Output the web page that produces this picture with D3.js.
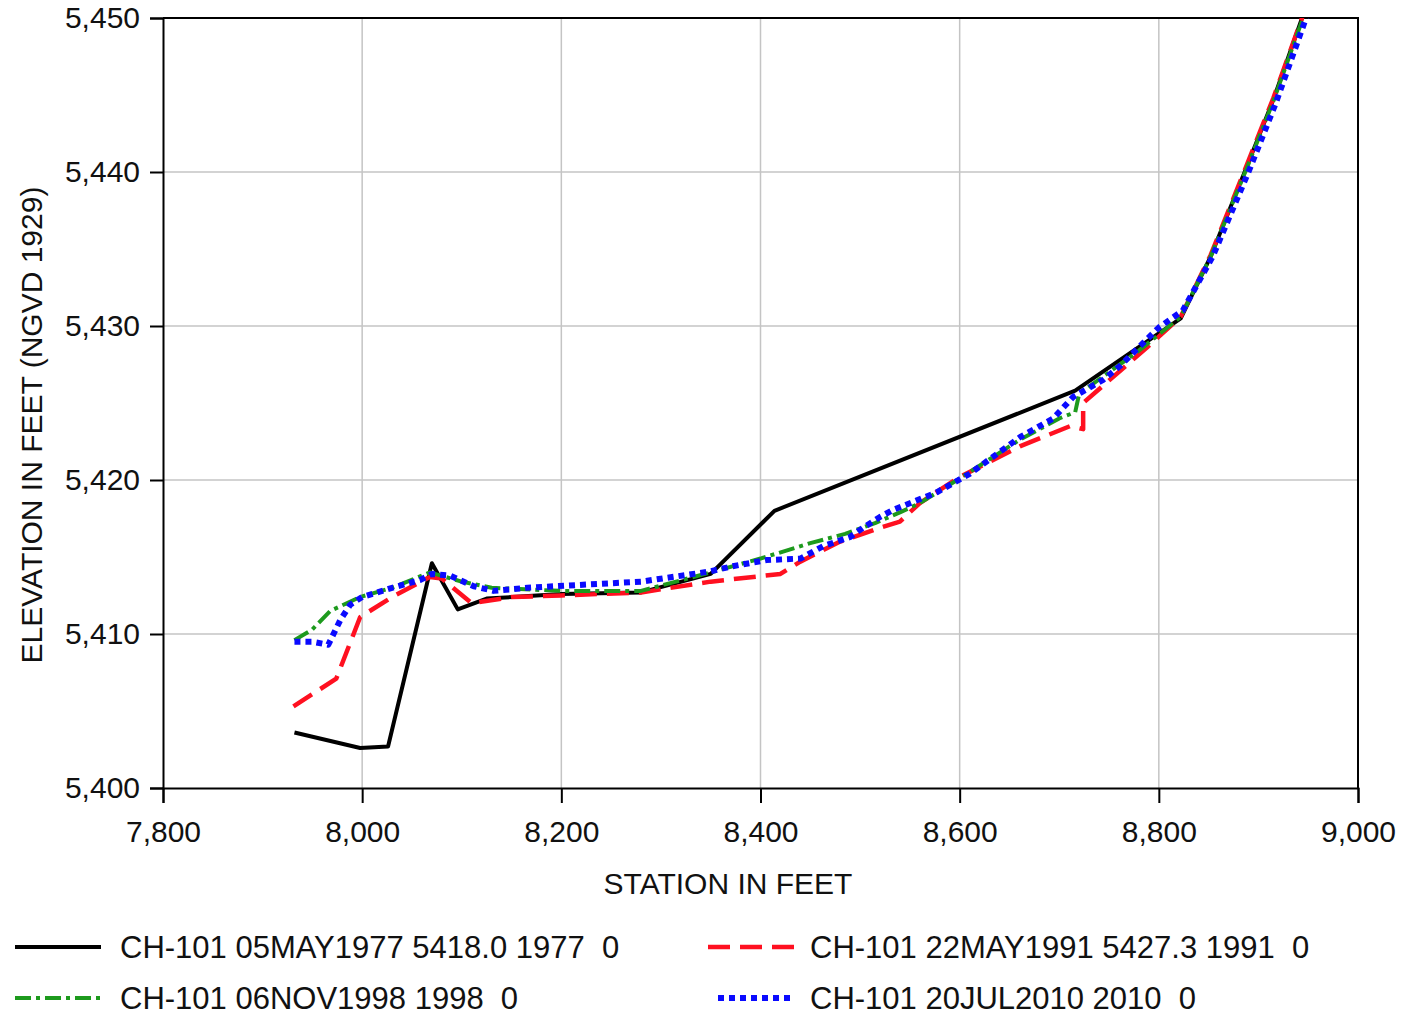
<!DOCTYPE html>
<html>
<head>
<meta charset="utf-8">
<script src="https://cdn.jsdelivr.net/npm/d3@7"></script>
<style>
  html, body { margin: 0; padding: 0; background: #fff; }
  svg { display: block; font-family: "Liberation Sans", Arial, sans-serif; }
</style>
</head>
<body>
<svg id="chart" width="1410" height="1018"></svg>
<script>
// Cross-section survey profiles, station (ft) vs elevation (ft, NGVD 1929)
const xTicks = [7800, 8000, 8200, 8400, 8600, 8800, 9000];
const yTicks = [5400, 5410, 5420, 5430, 5440, 5450];

const seriesNames = [
  "CH-101 05MAY1977 5418.0 1977  0",
  "CH-101 22MAY1991 5427.3 1991  0",
  "CH-101 06NOV1998 1998  0",
  "CH-101 20JUL2010 2010  0"
];

const sta1977 = [7932, 7998, 8026, 8070, 8096, 8125, 8200, 8280, 8350, 8414, 8716, 8822, 8852, 8888, 8915, 8946];
const elev1977 = [5403.6, 5402.6, 5402.7, 5414.6, 5411.6, 5412.3, 5412.6, 5412.7, 5413.9, 5418.0, 5425.8, 5430.5, 5434.5, 5440.3, 5444.7, 5450.4];

const sta1991 = [7931, 7974, 7998, 8030, 8068, 8080, 8110, 8150, 8200, 8280, 8350, 8420, 8440, 8480, 8520, 8540, 8560, 8600, 8661, 8711, 8724, 8724, 8788, 8822, 8852, 8888, 8915, 8946];
const elev1991 = [5405.3, 5407.1, 5411.1, 5412.4, 5413.7, 5413.6, 5412.0, 5412.4, 5412.5, 5412.7, 5413.4, 5413.9, 5414.7, 5416.0, 5416.9, 5417.3, 5418.5, 5420.2, 5422.2, 5423.5, 5423.3, 5425.0, 5428.6, 5430.6, 5434.6, 5440.4, 5444.8, 5450.4];

const sta1998 = [7932, 7950, 7968, 7998, 8030, 8068, 8100, 8130, 8200, 8280, 8350, 8400, 8450, 8485, 8515, 8540, 8560, 8600, 8660, 8700, 8716, 8720, 8780, 8822, 8852, 8888, 8915, 8947];
const elev1998 = [5409.6, 5410.3, 5411.5, 5412.4, 5413.0, 5414.0, 5413.4, 5413.0, 5412.8, 5412.8, 5414.0, 5414.9, 5415.9, 5416.5, 5417.2, 5417.9, 5418.5, 5420.1, 5422.6, 5424.0, 5424.4, 5425.6, 5428.4, 5430.6, 5434.5, 5440.2, 5444.6, 5450.4];

const sta2010 = [7932, 7950, 7966, 7978, 7988, 8000, 8030, 8058, 8070, 8088, 8112, 8132, 8166, 8193, 8280, 8348, 8372, 8406, 8440, 8463, 8490, 8503, 8520, 8533, 8577, 8610, 8661, 8694, 8714, 8744, 8761, 8800, 8824, 8854, 8890, 8917, 8950];
const elev2010 = [5409.5, 5409.5, 5409.3, 5410.9, 5411.9, 5412.4, 5413.0, 5413.5, 5413.9, 5413.8, 5413.1, 5412.8, 5413.0, 5413.1, 5413.4, 5414.05, 5414.4, 5414.8, 5414.9, 5415.7, 5416.3, 5416.9, 5417.6, 5418.05, 5419.2, 5420.4, 5422.8, 5424.0, 5425.4, 5426.5, 5427.4, 5429.9, 5431.0, 5434.5, 5440.0, 5444.4, 5450.4];

const svg = d3.select("#chart");
const margin = { left: 163, top: 18, right: 52, bottom: 230 };
const W = 1410, H = 1018;
const pw = W - margin.left - margin.right;   // 1195
const ph = H - margin.top - margin.bottom;   // 770

const x = d3.scaleLinear().domain([7800, 9000]).range([0, pw]);
const y = d3.scaleLinear().domain([5400, 5450]).range([ph, 0]);

const g = svg.append("g").attr("transform", `translate(${margin.left},${margin.top})`);

// grid
g.append("g").selectAll("line").data(xTicks.slice(1, -1)).join("line")
  .attr("x1", d => x(d)).attr("x2", d => x(d)).attr("y1", 0).attr("y2", ph)
  .attr("stroke", "#c4c4c4").attr("stroke-width", 1.5);
g.append("g").selectAll("line").data(yTicks.slice(1, -1)).join("line")
  .attr("x1", 0).attr("x2", pw).attr("y1", d => y(d)).attr("y2", d => y(d))
  .attr("stroke", "#c4c4c4").attr("stroke-width", 1.5);

// frame (top/right)
g.append("path").attr("d", `M0,0H${pw}V${ph}`).attr("fill", "none")
  .attr("stroke", "#000").attr("stroke-width", 2);

// axes
const fmt = d3.format(",");
const xAxis = g.append("g").attr("transform", `translate(0,${ph})`)
  .call(d3.axisBottom(x).tickValues(xTicks).tickFormat(fmt).tickSize(15).tickPadding(18));
const yAxis = g.append("g")
  .call(d3.axisLeft(y).tickValues(yTicks).tickFormat(fmt).tickSize(13).tickPadding(10));
[xAxis, yAxis].forEach(a => {
  a.select(".domain").attr("stroke", "#000").attr("stroke-width", 2);
  a.selectAll(".tick line").attr("stroke", "#000").attr("stroke-width", 2);
  a.selectAll(".tick text").attr("fill", "#111").attr("font-size", 30)
    .attr("font-family", "'Liberation Sans', Arial, sans-serif");
});

// axis titles
svg.append("text").attr("x", 728).attr("y", 894).attr("text-anchor", "middle")
  .attr("font-size", 30).attr("fill", "#111").text("STATION IN FEET");
svg.append("text").attr("transform", "translate(42,425) rotate(-90)")
  .attr("text-anchor", "middle").attr("font-size", 30).attr("fill", "#111")
  .text("ELEVATION IN FEET (NGVD 1929)");

// profiles
const styles = [
  { color: "#000000", width: 4, dash: null },
  { color: "#ff1020", width: 4.5, dash: "22,10" },
  { color: "#1d9a1d", width: 4, dash: "16,5,4,5" },
  { color: "#0a0aff", width: 6, dash: "6,5" }
];
const stations = [sta1977, sta1991, sta1998, sta2010];
const elevations = [elev1977, elev1991, elev1998, elev2010];

svg.append("defs").append("clipPath").attr("id", "plotclip")
  .append("rect").attr("x", 0).attr("y", 0).attr("width", pw).attr("height", ph);

const line = d3.line().x(d => x(d[0])).y(d => y(d[1]));
const lines = g.append("g").attr("clip-path", "url(#plotclip)");
stations.forEach((s, i) => {
  const pts = s.map((v, j) => [v, elevations[i][j]]);
  lines.append("path").datum(pts).attr("d", line)
    .attr("fill", "none").attr("stroke", styles[i].color)
    .attr("stroke-width", styles[i].width)
    .attr("stroke-linejoin", "round")
    .attr("stroke-dasharray", styles[i].dash);
});

// legend
const legendPos = [
  { lx: 15, tx: 120, y: 947 },
  { lx: 708, tx: 810, y: 947 },
  { lx: 15, tx: 120, y: 998 },
  { lx: 718, tx: 810, y: 998 }
];
legendPos.forEach((p, i) => {
  const len = i === 3 ? 76 : 86;
  svg.append("line").attr("x1", p.lx).attr("x2", p.lx + len).attr("y1", p.y).attr("y2", p.y)
    .attr("stroke", styles[i].color).attr("stroke-width", styles[i].width)
    .attr("stroke-dasharray", styles[i].dash);
  svg.append("text").attr("x", p.tx).attr("y", p.y).attr("dy", "0.36em")
    .attr("font-size", 31).attr("fill", "#111")
    .style("white-space", "pre").text(seriesNames[i]);
});
</script>
</body>
</html>
